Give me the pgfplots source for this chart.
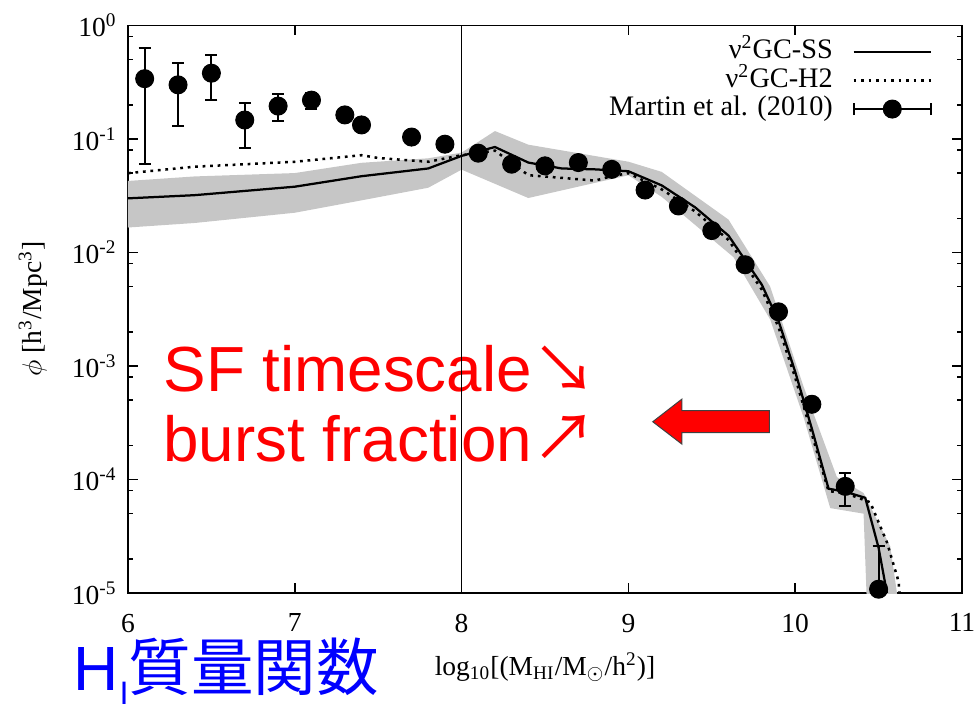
\documentclass[border=0pt]{standalone}
\usepackage{pgfplots}
\pgfplotsset{compat=1.18}
\usepackage{fontspec}
\setmainfont{Liberation Serif}
\newfontfamily\arial{Liberation Sans}
\newfontfamily\cjk{Noto Sans CJK JP}

\pgfplotsset{
  lineleg/.style={legend image code/.code={\draw[##1] (0cm,0cm) -- (1.09cm,0cm);}},
  errleg/.style={legend image code/.code={%
    \draw[black, line width=0.8pt] (0cm,0cm) -- (1.09cm,0cm);
    \pgfinterruptboundingbox
    \draw[black, line width=0.8pt] (0cm,-2.4pt) -- (0cm,2.4pt) (1.09cm,-2.4pt) -- (1.09cm,2.4pt);
    \fill[black] (0.545cm,0cm) circle (3.6pt);
    \endpgfinterruptboundingbox}},
}

\begin{document}
\begin{tikzpicture}
% fixed frame: 1px of the reference = 0.4pt
\path[use as bounding box] (-51.2pt,-46pt) rectangle (340pt,237.2pt);

% annotations (drawn under the axis, like the original)
\node[anchor=base west, inner sep=0pt, text=red, font=\arial\fontsize{25.5}{30}\selectfont] at (14.0pt,80.5pt) {SF timescale};
\node[anchor=base west, inner sep=0pt, text=red, font=\arial\fontsize{25.5}{30}\selectfont] at (14.0pt,52.5pt) {burst fraction};
\node[inner sep=0pt, text=red, font=\cjk\fontsize{25.5}{30}\selectfont] at (174.4pt,89.6pt) {↘};
\node[inner sep=0pt, text=red, font=\cjk\fontsize{25.5}{30}\selectfont] at (174.4pt,62pt) {↗};
\filldraw[fill=red, draw=black!75, line width=0.4pt]
  (209.9pt,68.5pt) -- (221.5pt,77.5pt) -- (221.5pt,72.9pt) -- (256.5pt,72.9pt)
  -- (256.5pt,64.1pt) -- (221.5pt,64.1pt) -- (221.5pt,59.6pt) -- cycle;

\begin{axis}[
  at={(0,0)}, anchor=south west,
  scale only axis, width=333.6pt, height=227pt,
  xmin=6, xmax=11, ymode=log, ymin=1e-5, ymax=1,
  xtick={6,7,8,9,10,11},
  xticklabels={6,7,8,9,10,11},
  ytick={1e-5,1e-4,1e-3,1e-2,1e-1,1},
  yticklabels={10\textsuperscript{-5},10\textsuperscript{-4},10\textsuperscript{-3},10\textsuperscript{-2},10\textsuperscript{-1},10\textsuperscript{0}},
  minor ytick={2e-5,5e-5,8e-5,2e-4,5e-4,8e-4,2e-3,5e-3,8e-3,2e-2,5e-2,8e-2,0.2,0.5,0.8},
  tick align=inside,
  major tick length=4pt, minor tick length=2pt,
  every tick/.style={black, line width=0.6pt},
  axis line style={line width=0.6pt},
  tick label style={font=\fontsize{11}{13}\selectfont},
  xticklabel style={yshift=-4.8pt},
  yticklabel style={xshift=-1pt},
  xlabel={log\textsubscript{10}[(M\textsubscript{HI}/M\textsubscript{$\odot$}/h\textsuperscript{2})]},
  ylabel={$\phi$ [h\textsuperscript{3}/Mpc\textsuperscript{3}]},
  label style={font=\fontsize{11}{13}\selectfont},
  xlabel style={at={(axis description cs:0.5,-0.130)}, anchor=center},
  ylabel style={at={(axis description cs:-0.114,0.5)}, anchor=center},
  legend style={draw=none, fill=none, at={(rel axis cs:0.974,0.988)}, anchor=north east,
    font=\fontsize{11.3}{12}\selectfont, row sep=0pt, column sep=7pt,
    nodes={text height=7.6pt, text depth=2.2pt, inner sep=0.8pt}},
  legend cell align=right, legend plot pos=right,
]

% model spread
\addplot[fill=gray!45, draw=none, forget plot] coordinates {
(6.0,0.0427) (6.4,0.0468) (7.0,0.0501) (7.4,0.0617) (7.8,0.0676) (8.0,0.0759)
(8.2,0.1175) (8.4,0.0891) (9.0,0.0631) (9.2,0.0513) (9.6,0.0195) (9.85,0.00501)
(10.05,6.6e-4) (10.25,1.05e-4) (10.41,7.6e-5) (10.57,2.57e-5) (10.62,7.9e-6)
(10.43,7.9e-6) (10.41,5.0e-5) (10.21,5.6e-5) (10.05,3.55e-4) (9.85,2.57e-3)
(9.63,9.1e-3) (9.2,0.0309) (9.0,0.0479) (8.88,0.0437) (8.4,0.0302) (8.0,0.0537)
(7.8,0.0372) (7.4,0.0288) (7.0,0.0224) (6.4,0.0182) (6.0,0.0166)
} -- cycle;

\draw[black, line width=0.6pt] (axis cs:8,1e-5) -- (axis cs:8,1);

% nu2GC-SS
\addplot[black, line width=0.9pt, lineleg] coordinates {
(6.0,0.030) (6.4,0.032) (7.0,0.038) (7.4,0.047) (7.8,0.055) (8.0,0.071)
(8.2,0.085) (8.4,0.062) (8.6,0.055) (8.8,0.054) (9.0,0.052) (9.2,0.039)
(9.4,0.025) (9.6,0.0141) (9.8,0.0052) (9.9,0.0025) (10.0,8.9e-4) (10.1,2.8e-4)
(10.2,8.3e-5) (10.3,7.8e-5) (10.42,6.9e-5) (10.5,2.5e-5) (10.55,1e-5)
};
\addlegendentry{ν\textsuperscript{2}GC-SS}

% nu2GC-H2
\addplot[black, line width=1pt, dash pattern=on 1.1pt off 1.9pt, lineleg] coordinates {
(6.0,0.050) (6.4,0.057) (7.0,0.063) (7.4,0.072) (7.5,0.068) (7.8,0.063)
(8.0,0.072) (8.2,0.079) (8.4,0.048) (8.8,0.043) (8.9,0.047) (9.0,0.050)
(9.2,0.036) (9.4,0.023) (9.6,0.0129) (9.8,0.0047) (9.9,0.0022) (10.0,7.9e-4)
(10.1,2.5e-4) (10.2,7.9e-5) (10.3,7.6e-5) (10.45,6.3e-5) (10.55,2.8e-5)
(10.62,1.26e-5) (10.63,8e-6)
};
\addlegendentry{ν\textsuperscript{2}GC-H2}

% Martin et al. (2010)
\addplot[only marks, black, mark=*, mark size=3.6pt, errleg,
  error bars/.cd, y dir=both, y explicit,
  error bar style={line width=0.8pt},
  error mark options={rotate=90, mark size=2.4pt, line width=0.8pt}]
  table[x=x, y=y, y error plus=ep, y error minus=em] {
x     y        ep       em
6.1   0.34     0.29     0.28
6.3   0.30     0.17     0.17
6.5   0.38     0.17     0.16
6.7   0.147    0.062    0.064
6.9   0.195    0.055    0.050
7.1   0.22     0.035    0.035
7.3   0.163    0.008    0.008
7.4   0.133    0.006    0.006
7.7   0.104    0.005    0.005
7.9   0.090    0.004    0.004
8.1   0.075    0.003    0.003
8.3   0.060    0.002    0.002
8.5   0.058    0.002    0.002
8.7   0.062    0.002    0.002
8.9   0.054    0.002    0.002
9.1   0.0355   0.001    0.001
9.3   0.0257   0.001    0.001
9.5   0.0156   0.0005   0.0005
9.7   0.0078   0.0002   0.0002
9.9   0.0030   0.0001   0.0001
10.1  4.6e-4   1e-5     1e-5
10.3  8.7e-5   2.6e-5   2.9e-5
10.5  1.08e-5  1.5e-5   0.9e-5
};
\addlegendentry{Martin et al. (2010)}

\end{axis}

\node[anchor=base west, inner sep=0pt, text=blue] at (-22.1pt,-39.1pt)
  {\arial\fontsize{25}{30}\selectfont H\kern0.5pt\raisebox{-5.6pt}{\fontsize{13}{15}\selectfont I}\cjk 質量関数};
\end{tikzpicture}
\end{document}
